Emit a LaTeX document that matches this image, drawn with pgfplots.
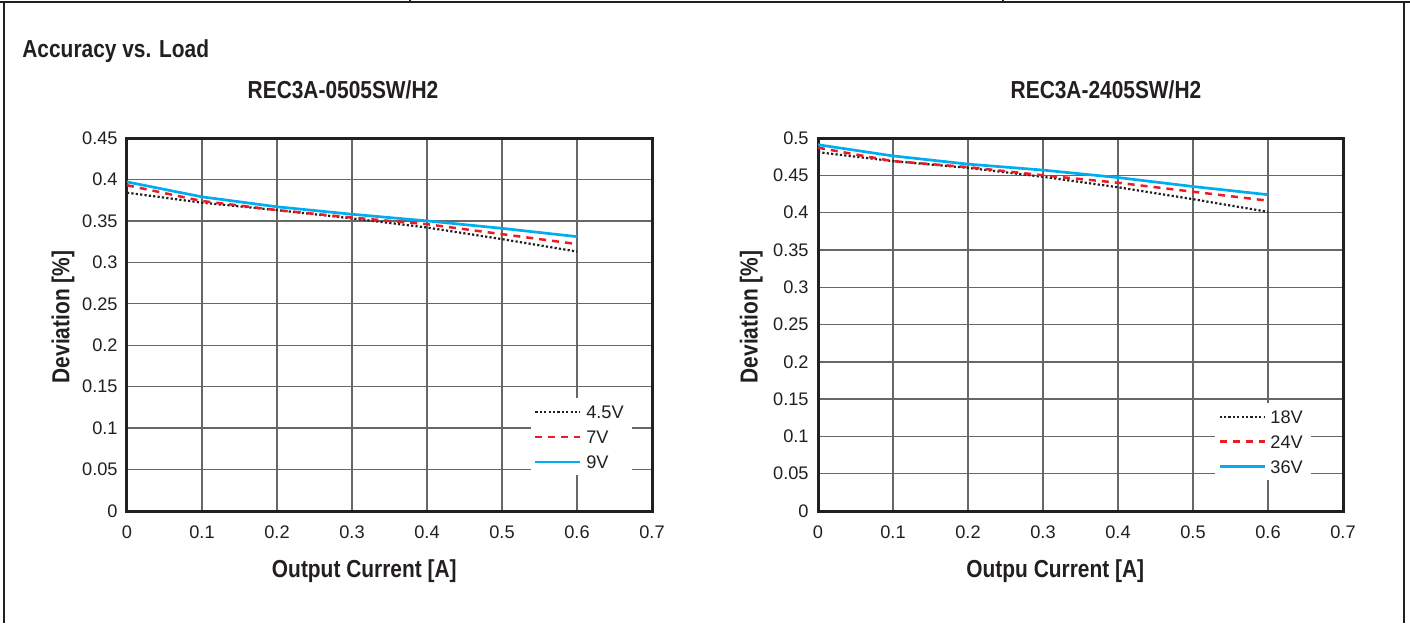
\documentclass[border=0pt]{standalone}
\usepackage{pgfplots}
\usepackage{pgfplotstable}
\pgfplotsset{compat=1.18}
\usepackage{fontspec}
\setmainfont{Liberation Sans}
\newfontfamily\headfont[FakeStretch=0.85]{Liberation Sans Bold}
\definecolor{ink}{HTML}{231F20}
\definecolor{gridgray}{HTML}{666769}
\definecolor{cblue}{HTML}{00AEEF}
\definecolor{cred}{HTML}{ED1C24}

% REC3A-0505SW/H2: 4.5V, 7V, 9V
\pgfplotstableread{
x    a      b      c
0    0.384  0.393  0.397
0.1  0.372  0.374  0.379
0.2  0.363  0.363  0.367
0.3  0.353  0.354  0.358
0.4  0.342  0.346  0.350
0.5  0.328  0.334  0.341
0.6  0.313  0.322  0.331
}\leftdata

% REC3A-2405SW/H2: 18V, 24V, 36V
\pgfplotstableread{
x    a      b      c
0    0.481  0.487  0.491
0.1  0.469  0.469  0.476
0.2  0.460  0.461  0.465
0.3  0.448  0.450  0.457
0.4  0.434  0.440  0.447
0.5  0.418  0.428  0.435
0.6  0.401  0.416  0.424
}\rightdata

\pgfplotsset{
  chart/.style={
    scale only axis, width=262.5pt, height=186.5pt,
    xmin=0, xmax=0.7, ymin=0,
    xtick={0,0.1,0.2,0.3,0.4,0.5,0.6,0.7},
    grid=major, major grid style={gridgray, line width=0.7pt},
    axis line style={ink, line width=1.5pt},
    major tick length=0pt,
    tick label style={font=\fontsize{9.1}{10}\selectfont, text=ink, inner sep=0pt},
    /pgf/number format/assume math mode=true,
    /pgf/number format/fixed, /pgf/number format/precision=2,
    scaled ticks=false,
    yticklabel style={xshift=-4.5pt},
    xticklabel style={yshift=-7pt},
    label style={font=\headfont\fontsize{12.3}{14}\selectfont, text=ink},
    xlabel style={at={(axis description cs:0.452,-0.16)}, anchor=center},
    legend cell align=left,
    legend image code/.code={\draw[#1] (0pt,0pt) -- (22.5pt,0pt);},
    legend style={draw=none, fill=white, anchor=north west,
      inner xsep=1.75pt, inner ysep=3.5pt, row sep=6pt,
      font=\fontsize{9.1}{10}\selectfont, text=ink,
      nodes={inner xsep=2.25pt, inner ysep=0pt, text height=6.5pt, text depth=0pt}},
  },
  dotline/.style={ink, line width=1.1pt, dash pattern=on 1.1pt off 1.1pt},
  dashline/.style={cred, line width=1.25pt, dash pattern=on 3.5pt off 3pt},
  solidline/.style={cblue, line width=1.35pt},
}

\begin{document}
\begin{tikzpicture}
\path[use as bounding box] (0,0) rectangle (705pt,311.5pt);
% page frame
\draw[ink, line width=0.75pt] (0,310.5pt) -- (705pt,310.5pt);
\draw[ink, line width=0.75pt] (2pt,310.5pt) -- (2pt,0);
\draw[ink, line width=0.75pt] (702pt,310.5pt) -- (702pt,0);
\draw[ink, line width=0.75pt] (205pt,310.5pt) -- (205pt,311.5pt);
\draw[ink, line width=0.75pt] (501.5pt,310.5pt) -- (501.5pt,311.5pt);

\node[anchor=base west, text=ink, font=\headfont\fontsize{12.3}{14}\selectfont, inner sep=0pt] at (11pt,283pt) {Accuracy vs. Load};
\node[anchor=base, text=ink, font=\headfont\fontsize{12.3}{14}\selectfont, inner sep=0pt] at (171.5pt,262pt) {REC3A-0505SW/H2};
\node[anchor=base, text=ink, font=\headfont\fontsize{12.3}{14}\selectfont, inner sep=0pt] at (553pt,262pt) {REC3A-2405SW/H2};

\begin{axis}[chart, at={(63.5pt,56pt)}, anchor=south west,
  ymax=0.45, ytick={0,0.05,0.1,0.15,0.2,0.25,0.3,0.35,0.4,0.45},
  xlabel={Output Current [A]}, ylabel={Deviation [\%]},
  ylabel style={at={(axis description cs:-0.122,0.52)}, anchor=center},
  legend style={at={(axis description cs:0.768,0.303)}}]
\addplot[dotline] table[x=x,y=a]{\leftdata};
\addplot[dashline] table[x=x,y=b]{\leftdata};
\addplot[solidline] table[x=x,y=c]{\leftdata};
\legend{4.5V,7V,9V}
\end{axis}

\begin{axis}[chart, at={(409pt,56pt)}, anchor=south west,
  ymax=0.5, ytick={0,0.05,0.1,0.15,0.2,0.25,0.3,0.35,0.4,0.45,0.5},
  xlabel={Outpu Current [A]}, ylabel={Deviation [\%]},
  ylabel style={at={(axis description cs:-0.127,0.52)}, anchor=center},
  legend style={at={(axis description cs:0.755,0.29)}}]
\addplot[dotline] table[x=x,y=a]{\rightdata};
\addplot[dashline] table[x=x,y=b]{\rightdata};
\addplot[solidline] table[x=x,y=c]{\rightdata};
\legend{18V,24V,36V}
\end{axis}
\end{tikzpicture}
\end{document}
